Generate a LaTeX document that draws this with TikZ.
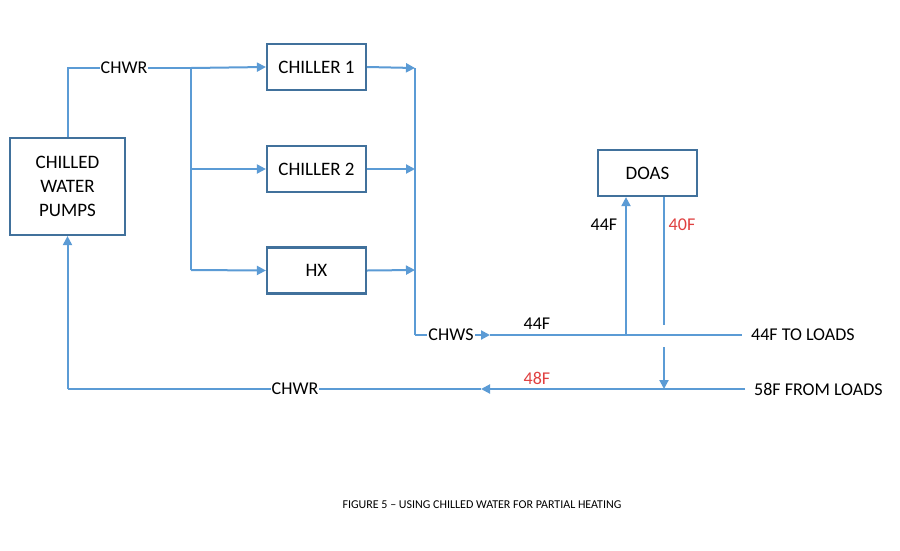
\documentclass[tikz,border=0pt]{standalone}
\usepackage{fontspec}
\setmainfont{Carlito}
\usetikzlibrary{arrows.meta}
\definecolor{pipe}{RGB}{91,155,213}
\definecolor{boxc}{RGB}{65,113,156}
\definecolor{hot}{RGB}{224,64,64}
\begin{document}
\begin{tikzpicture}[x=1pt,y=-1pt,
  pipe/.style={draw=pipe,line width=2pt},
  flow/.style={pipe,-{Triangle[length=9pt,width=9pt]}},
  unit/.style={draw=boxc,line width=2.2pt,minimum width=99pt,minimum height=46pt,font=\fontsize{19}{24}\selectfont,inner sep=0pt},
  lbl/.style={font=\fontsize{18}{21}\selectfont,inner sep=1pt},
  captext/.style={font=\fontsize{12}{14}\selectfont,inner sep=0pt}]
\useasboundingbox[fill=white] (0,0) rectangle (900,550);
\node[unit,minimum width=115pt,minimum height=97pt,align=center] (pumps) at (67.5,186.5) {CHILLED\\WATER\\PUMPS};
\node[unit] (ch1) at (316.5,67) {CHILLER 1};
\node[unit] (ch2) at (316.5,169) {CHILLER 2};
\node[unit] (hx) at (316.5,270.5) {HX};
\node[unit] (doas) at (647.5,173) {DOAS};
\coordinate (top) at (67.5,68);
\coordinate (split) at (191,68);
\coordinate (s2) at (191,169);
\coordinate (s3) at (191,270);
\coordinate (m1) at (415,68);
\coordinate (m2) at (415,169);
\coordinate (m3) at (415,270);
\coordinate (mb) at (415,335);
\coordinate (chwsarrow) at (490,335);
\coordinate (tap) at (626,335);
\coordinate (loadsup) at (742,335);
\coordinate (ret1) at (664,325);
\coordinate (ret2) at (664,347);
\coordinate (retj) at (664,389);
\coordinate (loadret) at (745,389);
\coordinate (retarrow) at (481,389);
\coordinate (corner) at (67.5,389);
\draw[pipe] (pumps.north) -- (top) -- (split);
\draw[flow] (split) -- (ch1.west);
\draw[pipe] (split) -- (s3);
\draw[flow] (s2) -- (ch2.west);
\draw[flow] (s3) -- (hx.west);
\draw[flow] (ch1.east) -- (m1);
\draw[flow] (ch2.east) -- (m2);
\draw[flow] (hx.east) -- (m3);
\draw[pipe] (m1) -- (mb);
\draw[flow] (mb) -- (chwsarrow);
\draw[pipe] (chwsarrow) -- (loadsup);
\draw[flow] (tap) -- (tap |- doas.south);
\draw[pipe] (ret1 |- doas.south) -- (ret1);
\draw[flow] (ret2) -- (retj);
\draw[flow] (loadret) -- (retarrow);
\draw[pipe] (retarrow) -- (corner);
\draw[flow] (corner) -- (pumps.south);
\node[lbl,fill=white] (chwr1) at (124,68) {CHWR};
\node[lbl,fill=white] (chws) at (451,335) {CHWS};
\node[lbl] (t44a) at (537,324) {44F};
\node[lbl,anchor=west] (toloads) at (750,335) {44F TO LOADS};
\node[lbl] (t44b) at (604,225) {44F};
\node[lbl,text=hot] (t40) at (682,225) {40F};
\node[lbl,text=hot] (t48) at (537,378) {48F};
\node[lbl,fill=white] (chwr2) at (295,389) {CHWR};
\node[lbl,anchor=west] (fromloads) at (753,389) {58F FROM LOADS};
\node[captext] (caption) at (482,505) {FIGURE 5 – USING CHILLED WATER FOR PARTIAL HEATING};
\end{tikzpicture}
\end{document}
